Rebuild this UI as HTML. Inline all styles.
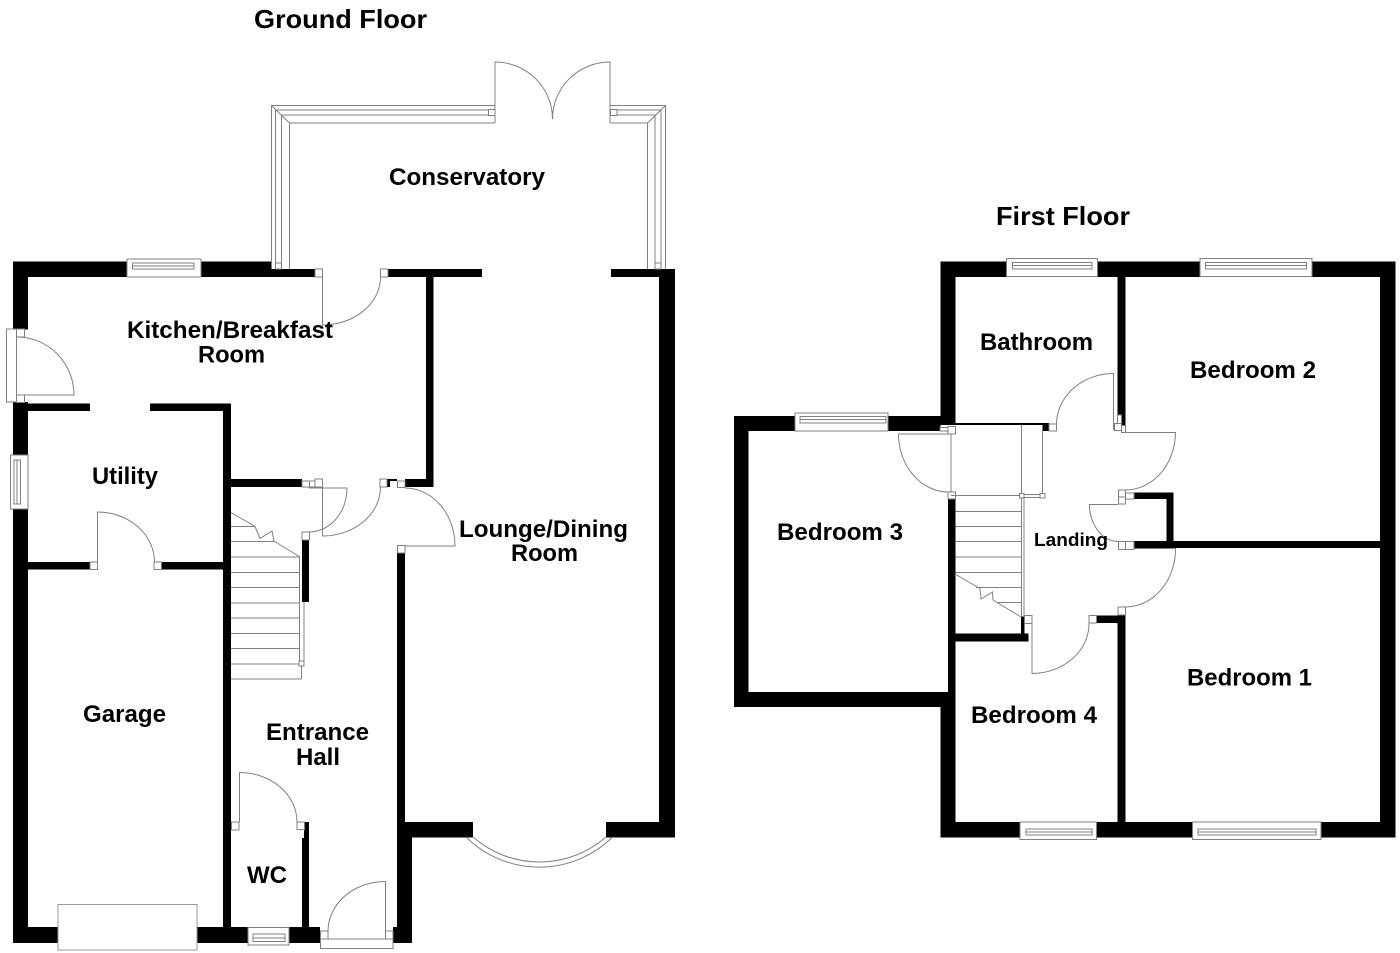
<!DOCTYPE html>
<html><head><meta charset="utf-8"><title>Floor plan</title>
<style>
html,body{margin:0;padding:0;background:#fff;width:1400px;height:953px;overflow:hidden}
svg{display:block}
.w{fill:#000}
.l{fill:none;stroke:#808080;stroke-width:1}
.s{fill:#fff;stroke:#808080;stroke-width:1}
text{font-family:"Liberation Sans",sans-serif;font-weight:bold;fill:#000;font-size:24px}
</style></head><body>
<svg width="1400" height="953" viewBox="0 0 1400 953" xmlns="http://www.w3.org/2000/svg">
<rect width="1400" height="953" fill="#fff"/>

<!-- GROUND FLOOR WALLS -->
<g class="w">
<rect x="13" y="261.5" width="114" height="15.5"/>
<rect x="201" y="261.5" width="71" height="15.5"/>
<rect x="272" y="269" width="43" height="8"/>
<rect x="388" y="269" width="94" height="8"/>
<rect x="426" y="269" width="7.5" height="218"/>
<rect x="611" y="269" width="64" height="8"/>
<rect x="659" y="269" width="16" height="568"/>
<rect x="13" y="261.5" width="15" height="68"/>
<rect x="13" y="402" width="15" height="53"/>
<rect x="13" y="509" width="15" height="434"/>
<rect x="28" y="403.5" width="62" height="7.5"/>
<rect x="150" y="403.5" width="81" height="7.5"/>
<rect x="223" y="403.5" width="8" height="524"/>
<rect x="28" y="562" width="62" height="7.5"/>
<rect x="162" y="562" width="61" height="7.5"/>
<rect x="231" y="479" width="71" height="8"/>
<rect x="387" y="479" width="3" height="8"/>
<rect x="390" y="479" width="7" height="2"/>
<rect x="405" y="479" width="28.5" height="8"/>
<rect x="302" y="540" width="7" height="62"/>
<rect x="397" y="553" width="8" height="269"/>
<rect x="397" y="822" width="76" height="15.5"/>
<rect x="397" y="822" width="15" height="121"/>
<rect x="606" y="822" width="69" height="15.5"/>
<rect x="304" y="822" width="5" height="16"/>
<rect x="302" y="838" width="7" height="90"/>
<rect x="13" y="927" width="45" height="16"/>
<rect x="197" y="927" width="51" height="16"/>
<rect x="289" y="927" width="31" height="16"/>
<rect x="393" y="927" width="19" height="16"/>
</g>

<!-- GROUND WINDOWS & DOORS -->
<g>
<!-- kitchen window -->
<rect class="s" x="127" y="259" width="74" height="18"/>
<rect class="l" x="132.5" y="263" width="61.5" height="6"/>
<line class="l" x1="132.5" y1="266" x2="194" y2="266"/>
<!-- kitchen side door -->
<rect class="s" x="6.5" y="329" width="10" height="73"/>
<rect class="s" x="16.5" y="329" width="8" height="8"/>
<rect class="s" x="16.5" y="395" width="8" height="7.5"/>
<path class="l" d="M17 337A57 58 0 0 1 74 395H17"/>
<!-- utility window -->
<rect class="s" x="10.5" y="455" width="17.5" height="54"/>
<rect class="l" x="14" y="460" width="6.5" height="44"/>
<line class="l" x1="17" y1="460" x2="17" y2="504"/>
<!-- kitchen-conservatory door -->
<rect class="s" x="315" y="269" width="7.5" height="8"/>
<rect class="s" x="380.5" y="269" width="7.5" height="8"/>
<path class="l" d="M322.5 277V325A58 48 0 0 0 380.5 277"/>
<!-- hall doors -->
<rect class="s" x="302" y="481" width="7.5" height="6"/>
<rect class="s" x="315" y="479" width="7.5" height="8"/>
<rect class="s" x="309.5" y="481" width="5.5" height="6"/>
<path class="l" d="M309 488H347A38 44 0 0 1 309.5 532"/>
<rect class="s" x="302" y="532" width="7.5" height="8"/>
<path class="l" d="M322.5 487V536A58 49 0 0 0 380.5 487"/>
<rect class="s" x="380" y="479" width="7" height="8"/>
<rect class="s" x="397.5" y="481" width="7.5" height="6.5"/>
<path class="l" d="M405 488A50 58 0 0 1 455 546H405"/>
<rect class="s" x="397.5" y="545.5" width="7.5" height="7.5"/>
<!-- utility door -->
<rect class="s" x="90" y="562" width="7.5" height="7.5"/>
<rect class="s" x="154" y="562" width="7.5" height="7.5"/>
<path class="l" d="M97.5 562V512A57 50 0 0 1 154.5 562"/>
<!-- WC door -->
<rect class="s" x="231.5" y="822" width="7.5" height="8"/>
<rect class="s" x="297" y="822" width="7.5" height="7.5"/>
<path class="l" d="M239.5 822V772.5A57.5 49.5 0 0 1 297 822"/>
<!-- garage door -->
<rect x="58" y="904.5" width="139" height="45.5" fill="#fff" stroke="#999" stroke-width="1"/>
<!-- wc window -->
<rect class="s" x="248" y="927.5" width="41" height="17.5"/>
<rect class="l" x="253" y="934" width="32" height="7.5"/>
<line class="l" x1="253" y1="938" x2="285" y2="938"/>
<!-- front door -->
<rect class="s" x="320.5" y="939" width="72.5" height="9.5"/>
<rect class="s" x="320.5" y="931" width="7.5" height="8"/>
<rect class="s" x="385.5" y="931" width="7.5" height="8"/>
<path class="l" d="M328 931A57 50 0 0 1 385.5 881.5V931"/>
<!-- bay -->
<path class="l" d="M466 837A104 104 0 0 0 612.5 837"/>
<path class="l" d="M473 837A101 101 0 0 0 606 837"/>

<!-- conservatory -->
<path class="l" d="M495 105.5H271.5V269"/>
<path class="l" d="M495 110H275.5V269"/>
<path class="l" d="M495 115H281.5V269"/>
<path class="l" d="M495 123H289.5V269"/>
<line class="l" x1="271.5" y1="105.5" x2="289.5" y2="123"/>
<path class="l" d="M610 105.5H665.5V269"/>
<path class="l" d="M610 110H661V269"/>
<path class="l" d="M610 115H655V269"/>
<path class="l" d="M610 123H647.5V269"/>
<line class="l" x1="665.5" y1="105.5" x2="647.5" y2="123"/>
<rect class="s" x="488.5" y="109.5" width="6.5" height="6"/>
<rect class="s" x="610.5" y="109.5" width="6.5" height="6"/>
<rect class="s" x="275.5" y="263" width="6" height="6"/>
<rect class="s" x="655" y="263" width="6" height="6"/>
<path class="l" d="M495 123V62A57.5 57 0 0 1 552.5 119"/>
<path class="l" d="M610 123V62A57.5 57 0 0 0 552.5 119"/>

<!-- ground stairs -->
<path class="l" d="M231 512.5L255 526.5L260 538.5L272 531L274 541L300 557"/>
<path class="l" d="M231 526.5H255M231 541.5H274M231 557H300M231 572.5H299.5M231 587.5H299.5M231 603H299.5M231 618H299.5M231 633.5H299.5M231 648.5H299.5M231 664H299.5M231 679H301.5"/>
<path class="l" d="M299.5 557V661M304 602V661M301.5 666V679"/>
<rect class="s" x="299" y="661" width="5" height="5"/>
</g>

<!-- FIRST FLOOR WALLS -->
<g class="w">
<rect x="940.5" y="261.5" width="66" height="15.5"/>
<rect x="1097.5" y="261.5" width="102.5" height="15.5"/>
<rect x="1312" y="261.5" width="83.5" height="15.5"/>
<rect x="1380" y="261.5" width="15.5" height="576"/>
<rect x="940.5" y="261.5" width="15" height="163.5"/>
<rect x="734" y="416" width="61" height="15"/>
<rect x="888" y="416" width="52.5" height="15"/>
<rect x="734" y="416" width="14.5" height="291"/>
<rect x="734" y="692" width="215" height="15"/>
<rect x="948" y="499" width="7.5" height="208"/>
<rect x="940.5" y="707" width="15" height="130"/>
<rect x="940.5" y="822" width="79.5" height="15.5"/>
<rect x="1096.5" y="822" width="96" height="15.5"/>
<rect x="1321" y="822" width="74.5" height="15.5"/>
<rect x="1117.5" y="615" width="8" height="207"/>
<rect x="1097" y="615.5" width="20.5" height="7.5"/>
<rect x="1117.5" y="277" width="8" height="138"/>
<rect x="1121.5" y="415" width="4" height="10"/>
<rect x="955" y="423" width="88" height="2"/>
<rect x="1042.5" y="423" width="6.5" height="8"/>
<rect x="1134" y="492.5" width="39.5" height="6.5"/>
<rect x="1166.5" y="492.5" width="7" height="55"/>
<rect x="1134" y="541" width="246" height="7"/>
<rect x="955.5" y="633.5" width="73" height="8"/>
<rect x="1021" y="616.5" width="3.5" height="17"/>
</g>

<!-- FIRST FLOOR WINDOWS & DOORS -->
<g>
<rect class="s" x="1006.5" y="258.5" width="91" height="18"/>
<rect class="l" x="1012.5" y="262.5" width="79.5" height="6.5"/>
<line class="l" x1="1012.5" y1="265.5" x2="1092" y2="265.5"/>
<rect class="s" x="1200" y="258.5" width="112" height="18"/>
<rect class="l" x="1205.5" y="262.5" width="101" height="6.5"/>
<line class="l" x1="1205.5" y1="265.5" x2="1306.5" y2="265.5"/>
<rect class="s" x="795" y="413" width="93" height="18"/>
<rect class="l" x="800" y="416.5" width="86" height="6.5"/>
<line class="l" x1="800" y1="419.5" x2="886" y2="419.5"/>
<rect class="s" x="1020" y="822" width="76.5" height="17.5"/>
<rect class="l" x="1026" y="829" width="66" height="6"/>
<line class="l" x1="1026" y1="832" x2="1092" y2="832"/>
<rect class="s" x="1192.5" y="822" width="128.5" height="17.5"/>
<rect class="l" x="1198" y="829" width="118" height="6"/>
<line class="l" x1="1198" y1="832" x2="1316" y2="832"/>

<!-- bedroom 3 door -->
<rect class="s" x="940" y="427.5" width="8" height="3.5"/>
<rect class="s" x="948" y="426.5" width="7.5" height="7.5"/>
<rect class="s" x="948" y="492" width="7.5" height="7"/>
<path class="l" d="M948 434H898.5A50 58 0 0 0 948 492"/>
<line class="l" x1="951" y1="434" x2="951" y2="492"/>
<!-- bathroom door -->
<rect class="s" x="1049" y="424" width="7.5" height="7"/>
<path class="l" d="M1056.5 424A57 51 0 0 1 1113.5 373.5V430"/>
<rect class="s" x="1117.5" y="415" width="4" height="8.5"/>
<rect class="s" x="1114.5" y="423.5" width="7" height="7"/>
<rect class="s" x="1121.5" y="425.5" width="4" height="7"/>
<!-- bedroom 2 door -->
<path class="l" d="M1125.5 432.5H1175.5A50 58 0 0 1 1125.5 490"/>
<!-- cupboard -->
<rect class="s" x="1118.5" y="490" width="7" height="7"/>
<rect class="s" x="1118.5" y="497" width="7" height="7"/>
<rect class="s" x="1125.5" y="493" width="8.5" height="6"/>
<rect class="s" x="1118.5" y="541.5" width="7" height="8"/>
<rect class="s" x="1125.5" y="541.5" width="8.5" height="8"/>
<path class="l" d="M1118 504.5H1089.5A29 37 0 0 0 1118 541.5"/>
<!-- bedroom 1 door -->
<path class="l" d="M1134 548.5H1175.5A50 58 0 0 1 1125.5 607"/>
<rect class="s" x="1118" y="607" width="7.5" height="8"/>
<!-- bedroom 4 door -->
<rect class="s" x="1089" y="615.5" width="7.5" height="7.5"/>
<rect class="s" x="1024.5" y="615.5" width="7.5" height="8"/>
<path class="l" d="M1089 623A57 50 0 0 1 1032 673.5V623"/>
<!-- landing stairs -->
<path class="l" d="M951 495.5H1019.5M955.5 511.5H1021.5M955.5 526.5H1021.5M955.5 541.5H1021.5M955.5 557H1021.5M955.5 572.5H1021.5M976 587.5H1021.5M998 602.5H1021.5"/>
<path class="l" d="M955 574L980 588.5L981 599L992.5 592L993 600L1021 617"/>
<path class="l" d="M1021.5 425V617M1024 498V616M1042.5 425V494"/>
<rect class="s" x="1019.5" y="493.5" width="4.5" height="4.5"/>
<rect class="s" x="1024" y="494.5" width="16" height="3"/>
<rect class="s" x="1040" y="493.5" width="5" height="4.5"/>
</g>

<!-- LABELS -->
<text x="254" y="28" style="font-size:26px" textLength="173" lengthAdjust="spacingAndGlyphs">Ground Floor</text>
<text x="996" y="225" style="font-size:26px" textLength="134" lengthAdjust="spacingAndGlyphs">First Floor</text>
<text x="389" y="185" textLength="156" lengthAdjust="spacingAndGlyphs">Conservatory</text>
<text x="127" y="338" textLength="206" lengthAdjust="spacingAndGlyphs">Kitchen/Breakfast</text>
<text x="198" y="362.5" textLength="67" lengthAdjust="spacingAndGlyphs">Room</text>
<text x="92" y="484" textLength="66" lengthAdjust="spacingAndGlyphs">Utility</text>
<text x="459" y="537" textLength="169" lengthAdjust="spacingAndGlyphs">Lounge/Dining</text>
<text x="511" y="561" textLength="67" lengthAdjust="spacingAndGlyphs">Room</text>
<text x="83" y="722" textLength="83" lengthAdjust="spacingAndGlyphs">Garage</text>
<text x="266" y="740" textLength="103" lengthAdjust="spacingAndGlyphs">Entrance</text>
<text x="296" y="765" textLength="44" lengthAdjust="spacingAndGlyphs">Hall</text>
<text x="247" y="883" textLength="40" lengthAdjust="spacingAndGlyphs">WC</text>
<text x="980" y="350" textLength="113" lengthAdjust="spacingAndGlyphs">Bathroom</text>
<text x="1190" y="378" textLength="126" lengthAdjust="spacingAndGlyphs">Bedroom 2</text>
<text x="777" y="540" textLength="126" lengthAdjust="spacingAndGlyphs">Bedroom 3</text>
<text x="1187" y="685.5" textLength="125" lengthAdjust="spacingAndGlyphs">Bedroom 1</text>
<text x="971" y="723" textLength="126" lengthAdjust="spacingAndGlyphs">Bedroom 4</text>
<text x="1034" y="546" style="font-size:18px" textLength="74" lengthAdjust="spacingAndGlyphs">Landing</text>
</svg>
</body></html>
